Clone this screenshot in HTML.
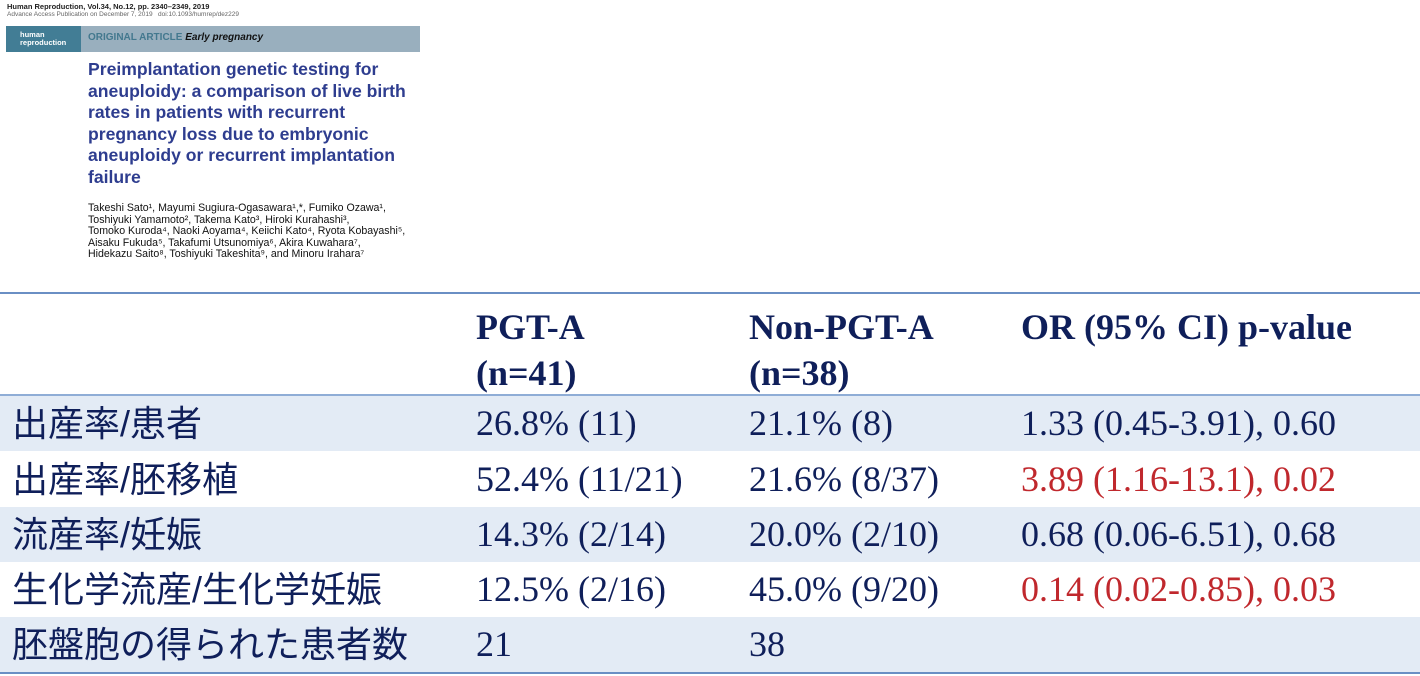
<!DOCTYPE html>
<html><head><meta charset="utf-8">
<style>
body{margin:0;width:1420px;height:676px;background:#fff;position:relative;overflow:hidden;font-family:"Liberation Serif","Noto Serif CJK SC",serif;color:#0f1f5a}
.a{position:absolute}
.sans{font-family:"Liberation Sans","DejaVu Sans",sans-serif}
.row{position:absolute;left:0;width:1420px;height:55px;font-size:36px;line-height:55px}
.row span{position:absolute;top:0;white-space:nowrap}
.jp{font-family:"Liberation Sans","Noto Sans CJK JP",sans-serif;font-size:36px}
.red{color:#c0282d}
.hd{position:absolute;top:304px;font-size:36px;font-weight:bold;line-height:46px;white-space:nowrap}
</style></head><body>
<div class="a sans" style="left:7px;top:2px;font-size:7.5px;font-weight:bold;color:#222">Human Reproduction, Vol.34, No.12, pp. 2340–2349, 2019</div>
<div class="a sans" style="left:7px;top:11px;font-size:6.5px;color:#666">Advance Access Publication on December 7, 2019 &nbsp; doi:10.1093/humrep/dez229</div>
<div class="a" style="left:6px;top:26px;width:414px;height:26px;background:#99afbe"></div>
<div class="a sans" style="left:6px;top:26px;width:75px;height:26px;background:#427d95;color:#fff;font-size:7.5px;font-weight:bold;line-height:8px;padding:5px 0 0 14px;box-sizing:border-box">human<br>reproduction</div>
<div class="a sans" style="left:88px;top:32px;font-size:10px;font-weight:bold;color:#43788e">ORIGINAL ARTICLE <i style="color:#111">Early pregnancy</i></div>
<div class="a sans" style="left:88px;top:59px;font-size:17.6px;font-weight:bold;line-height:21.6px;color:#2e3d8f;white-space:nowrap">Preimplantation genetic testing for<br>aneuploidy: a comparison of live birth<br>rates in patients with recurrent<br>pregnancy loss due to embryonic<br>aneuploidy or recurrent implantation<br>failure</div>
<div class="a sans" style="left:88px;top:203px;font-size:10.6px;line-height:11.6px;color:#111;white-space:nowrap">Takeshi Sato¹, Mayumi Sugiura-Ogasawara¹,*, Fumiko Ozawa¹,<br>Toshiyuki Yamamoto², Takema Kato³, Hiroki Kurahashi³,<br>Tomoko Kuroda⁴, Naoki Aoyama⁴, Keiichi Kato⁴, Ryota Kobayashi⁵,<br>Aisaku Fukuda⁵, Takafumi Utsunomiya⁶, Akira Kuwahara⁷,<br>Hidekazu Saito⁸, Toshiyuki Takeshita⁹, and Minoru Irahara⁷</div>

<div>
<div class="a" style="left:0;top:292px;width:1420px;height:2px;background:#6a8fc4"></div>
<div class="a" style="left:0;top:394px;width:1420px;height:2px;background:#8fadd6"></div>
<div class="hd" style="left:476px">PGT-A<br>(n=41)</div>
<div class="hd" style="left:749px">Non-PGT-A<br>(n=38)</div>
<div class="hd" style="left:1021px">OR (95% CI) p-value</div>

<div class="row" style="top:396px;background:#e3ebf5"><span class="jp" style="left:12px">出産率/患者</span><span style="left:476px">26.8% (11)</span><span style="left:749px">21.1% (8)</span><span style="left:1021px">1.33 (0.45-3.91), 0.60</span></div>
<div class="row" style="top:451px;background:#fff;border-top:1px solid #fff"><span class="jp" style="left:12px">出産率/胚移植</span><span style="left:476px">52.4% (11/21)</span><span style="left:749px">21.6% (8/37)</span><span class="red" style="left:1021px">3.89 (1.16-13.1), 0.02</span></div>
<div class="row" style="top:507px;background:#e3ebf5"><span class="jp" style="left:12px">流産率/妊娠</span><span style="left:476px">14.3% (2/14)</span><span style="left:749px">20.0% (2/10)</span><span style="left:1021px">0.68 (0.06-6.51), 0.68</span></div>
<div class="row" style="top:562px;background:#fff"><span class="jp" style="left:12px">生化学流産/生化学妊娠</span><span style="left:476px">12.5% (2/16)</span><span style="left:749px">45.0% (9/20)</span><span class="red" style="left:1021px">0.14 (0.02-0.85), 0.03</span></div>
<div class="row" style="top:617px;background:#e3ebf5"><span class="jp" style="left:12px">胚盤胞の得られた患者数</span><span style="left:476px">21</span><span style="left:749px">38</span></div>
<div class="a" style="left:0;top:672px;width:1420px;height:2px;background:#6a8fc4"></div>
</div>
</body></html>
